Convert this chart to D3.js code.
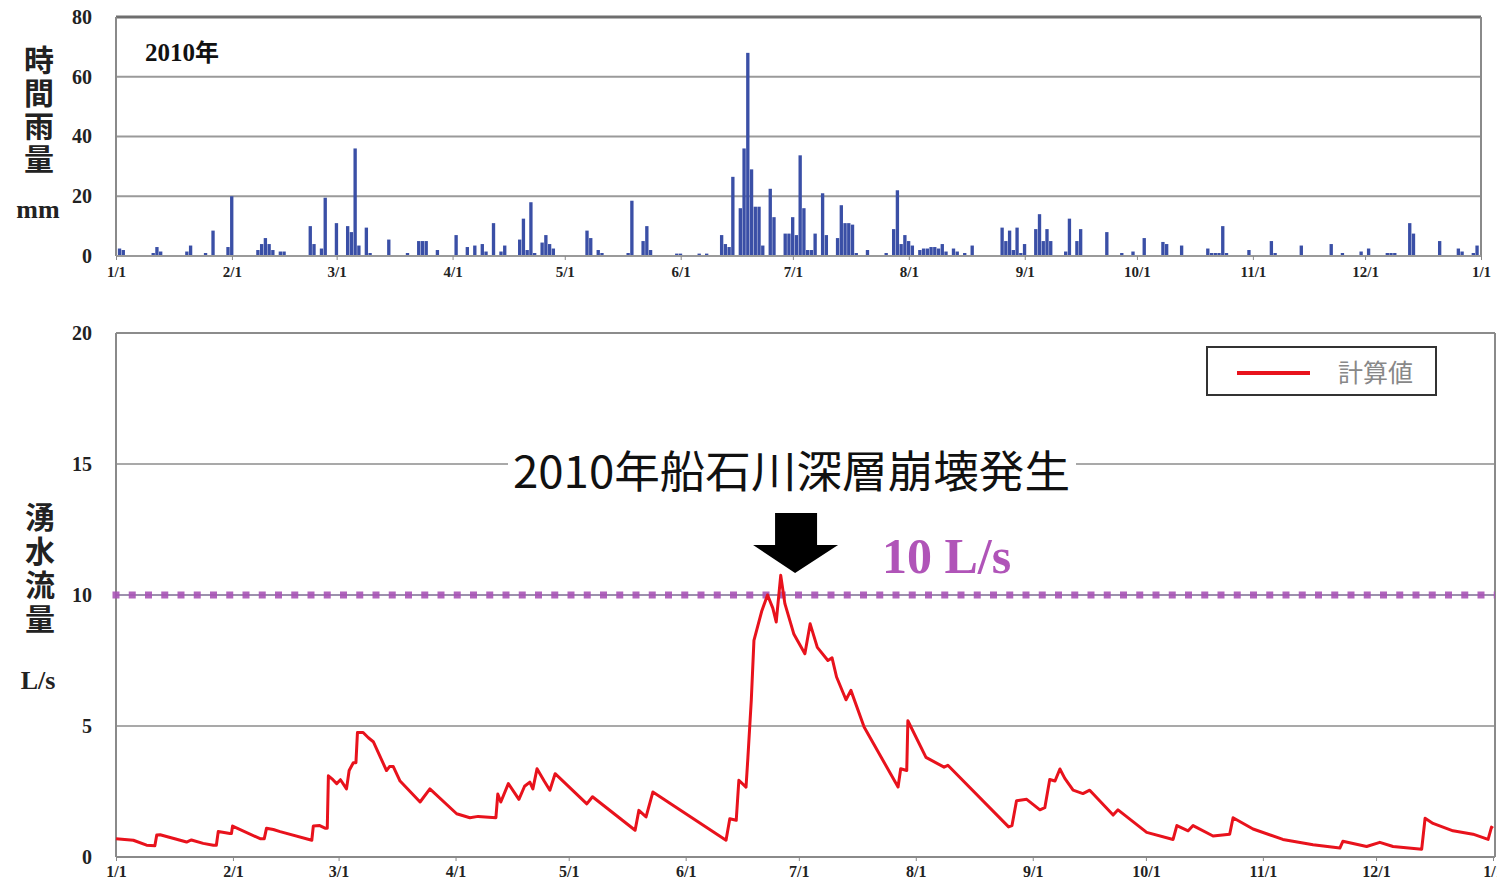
<!DOCTYPE html>
<html><head><meta charset="utf-8">
<script src="https://cdn.jsdelivr.net/npm/d3@7"></script>
<style>body{margin:0;background:#fff;} svg{display:block;}</style>
</head><body>
<svg id="c" width="1497" height="885"></svg>
<script>
// ---------- data ----------
const monthStartDays = [0,31,59,90,120,151,181,212,243,273,304,334,365];
const monthLabels = ["1/1","2/1","3/1","4/1","5/1","6/1","7/1","8/1","9/1","10/1","11/1","12/1","1/1"];

const rainTicks = [0,20,40,60,80];
const rainDays = [1,2,10,11,12,19,20,24,26,30,31,38,39,40,41,42,44,45,52,53,55,56,59,62,63,64,65,67,68,73,78,81,82,83,86,91,94,96,98,99,101,103,104,108,109,110,111,112,114,115,116,117,126,127,129,130,137,138,141,142,143,150,151,156,158,162,163,164,165,167,168,169,170,171,172,173,175,176,179,180,181,182,183,184,185,186,187,189,190,193,194,195,196,197,198,201,206,208,209,210,211,212,213,215,216,217,218,219,220,221,222,224,225,227,229,237,238,239,240,241,242,243,246,247,248,249,250,254,255,257,258,265,269,272,275,280,281,285,292,293,294,295,296,297,303,309,310,317,325,328,333,335,340,341,342,346,347,354,359,360,363,364];
const rainValues = [2.5,2,1,3,1.5,1.5,3.5,1,8.5,3,20,2,4,6,4,2,1.5,1.5,10,4,2.5,19.5,11,10,8,36,3.5,9.5,1,5.5,1,5,5,5,2,7,3,3.5,4,1.5,11,1.5,3.5,5.5,12.5,2,18,1,4.5,7,4,2.5,8.5,6,2,1,1,18.5,5,10,2,0.8,0.8,0.8,0.8,7,4,3,26.5,16,36,68,29,16.5,16.5,3.5,22.5,13,7.5,7.5,13,7,33.7,16,2,2,7.5,21,7,6,17,11,11,10.5,1,2,1,9,22,4,7,5,3.5,2,2.5,2.5,3,3,2.5,4,1.5,2.5,1.5,1,3.5,9.5,5,8.5,2,9.5,1,4,9,14,5,9,5,1.5,12.5,5,9,8,1,1.5,6,4.7,4,3.5,2.5,1,1,1,10,1,2,5,1,3.5,4,1,1.5,2.5,1,1,1,11,7.5,5,2.5,1.5,1,3.5];

const flowTicks = [0,5,10,15,20];
const flowDays = [0,4.6,8.1,10.3,10.8,11.7,18.7,20,23.1,25.8,26.6,27.1,30.2,30.6,30.9,38.2,39.3,39.9,41.7,43.5,51.9,52.3,54,55.4,56,56.3,57.5,58.5,59.5,61.1,61.8,62.9,63.6,64,65.5,66.9,68.2,71.7,72.5,73.5,75.3,80.6,83.2,90.3,93.8,96,100.7,101.2,102,104,106.8,108.3,109.7,110.5,111.6,113.5,115,116.4,124.8,126.3,137.6,138.6,140.5,142.3,161.7,162.7,164.4,165.1,167,167.5,168.4,169.1,171.2,172.7,174.1,175,176.2,177.3,179.7,182.6,184,185.9,188.7,189.8,191,193.5,194.8,198.3,207.3,208,209.6,209.9,214.7,219.5,220.5,236.6,237.5,238.7,241.4,244.9,246.2,247.5,248.9,250.2,251.5,253.7,256.3,258.1,264.3,265.6,273.2,280.2,281.2,284.2,285.5,290.8,295.2,296.1,301.4,309.3,317.3,324.4,325.2,331.5,335,338.5,346.1,347,349.1,354.4,359.7,363.7,364.6,365];
const flowValues = [0.7,0.64,0.45,0.43,0.84,0.85,0.57,0.65,0.52,0.45,0.45,0.97,0.9,0.9,1.18,0.7,0.7,1.1,1.05,0.97,0.64,1.18,1.2,1.1,1.1,3.1,2.95,2.8,2.95,2.6,3.3,3.6,3.6,4.75,4.75,4.55,4.4,3.3,3.45,3.45,2.9,2.1,2.6,1.65,1.5,1.55,1.5,2.4,2.1,2.8,2.2,2.7,2.86,2.6,3.37,2.9,2.55,3.18,2.03,2.3,1.02,1.78,1.53,2.48,0.64,1.46,1.4,2.93,2.67,3.8,6,8.27,9.4,10,9.5,8.97,10.75,9.67,8.5,7.76,8.9,8,7.5,7.6,6.87,6.0,6.36,4.96,2.67,3.37,3.3,5.2,3.8,3.43,3.5,1.15,1.2,2.15,2.2,1.8,1.88,2.96,2.9,3.36,3.0,2.55,2.42,2.55,1.6,1.8,0.94,0.67,1.2,1.0,1.2,0.8,0.87,1.5,1.07,0.67,0.47,0.34,0.6,0.4,0.56,0.4,0.3,1.48,1.28,1.0,0.87,0.67,1.14,1.1];

const thresholdValue = [10];
const eventDay = 180;
const seriesName = "計算値";

// ---------- drawing ----------
const serif = "'Liberation Serif','Times New Roman',serif";
const cjk = "'Noto Sans CJK JP','Noto Sans CJK SC',sans-serif";
const svg = d3.select("#c");

// ===== top: rainfall =====
const xR = d3.scaleLinear([0,365],[116,1481]);
const yR = d3.scaleLinear([0,80],[256,17]);

const gTop = svg.append("g");
gTop.selectAll("line.grid").data(rainTicks.filter(t=>t>0)).join("line")
  .attr("x1",xR(0)).attr("x2",xR(365)).attr("y1",d=>yR(d)).attr("y2",d=>yR(d))
  .attr("stroke",d=>d===80?"#6e6e6e":"#9a9a9a").attr("stroke-width",d=>d===80?3:2);
gTop.selectAll("rect.bar").data(rainDays.map((d,i)=>({d,v:rainValues[i]}))).join("rect")
  .attr("x",p=>xR(p.d-0.5)).attr("width",p=>xR(p.d+0.5)-xR(p.d-0.5)-0.4)
  .attr("y",p=>yR(p.v)).attr("height",p=>yR(0)-yR(p.v))
  .attr("fill","#3a4fa6");
gTop.append("line").attr("x1",xR(0)).attr("x2",xR(0)).attr("y1",yR(80)).attr("y2",yR(0)).attr("stroke","#8a8a8a").attr("stroke-width",2);
gTop.append("line").attr("x1",xR(365)).attr("x2",xR(365)).attr("y1",yR(80)).attr("y2",yR(0)).attr("stroke","#8a8a8a").attr("stroke-width",2);
gTop.append("line").attr("x1",xR(0)).attr("x2",xR(365)).attr("y1",yR(0)).attr("y2",yR(0)).attr("stroke","#9a9a9a").attr("stroke-width",2);

const axTopX = gTop.append("g").attr("transform",`translate(0,${yR(0)})`)
  .call(d3.axisBottom(xR).tickValues(monthStartDays).tickFormat((d,i)=>monthLabels[i]).tickSize(4).tickPadding(6));
axTopX.select(".domain").remove();
axTopX.selectAll("line").attr("stroke","#888");
axTopX.selectAll("text").attr("font-family",serif).attr("font-weight","bold").attr("font-size",15).attr("fill","#222");

const axTopY = gTop.append("g").attr("transform",`translate(${xR(0)},0)`)
  .call(d3.axisLeft(yR).tickValues(rainTicks).tickSize(0).tickPadding(24));
axTopY.select(".domain").remove();
axTopY.selectAll("text").attr("font-family",serif).attr("font-weight","bold").attr("font-size",20).attr("fill","#222");

gTop.append("text").attr("x",145).attr("y",61).attr("font-family",serif).attr("font-weight","bold")
  .attr("font-size",25).attr("fill","#111")
  .call(t=>{t.append("tspan").text("2010");t.append("tspan").attr("font-family",cjk).attr("font-size",24).text("年");});

// vertical y titles
gTop.append("text").attr("x",39).attr("y",45)
  .style("writing-mode","vertical-rl").attr("letter-spacing",3)
  .attr("font-family",cjk).attr("font-weight","bold").attr("font-size",30).attr("fill","#222").text("時間雨量");
gTop.append("text").attr("x",38).attr("y",218).attr("text-anchor","middle")
  .attr("font-family",serif).attr("font-weight","bold").attr("font-size",26).attr("fill","#222").text("mm");

// ===== bottom: flow =====
const xF = d3.scaleLinear([0,365],[116,1493]);
const yF = d3.scaleLinear([0,20],[857,333]);
const gBot = svg.append("g");

gBot.selectAll("line.grid").data(flowTicks.filter(t=>t>0 && t!==10)).join("line")
  .attr("x1",xF(0)).attr("x2",xF(365)+2).attr("y1",d=>yF(d)).attr("y2",d=>yF(d))
  .attr("stroke","#8c8c8c").attr("stroke-width",d=>d===20?2:1.6);
gBot.append("line").attr("x1",xF(0)).attr("x2",xF(0)).attr("y1",yF(20)).attr("y2",yF(0)).attr("stroke","#8a8a8a").attr("stroke-width",2);
gBot.append("line").attr("x1",xF(365)+2).attr("x2",xF(365)+2).attr("y1",yF(20)).attr("y2",yF(0)).attr("stroke","#8a8a8a").attr("stroke-width",2);
gBot.append("line").attr("x1",xF(0)).attr("x2",xF(365)+2).attr("y1",yF(0)).attr("y2",yF(0)).attr("stroke","#8a8a8a").attr("stroke-width",2);

// annotation text with white background (hides the 15 gridline)
gBot.append("rect").attr("x",508).attr("y",445).attr("width",568).attr("height",50).attr("fill","#fff");
gBot.append("text").attr("x",513).attr("y",488).attr("textLength",557).attr("lengthAdjust","spacingAndGlyphs")
  .attr("font-family",cjk).attr("font-size",44).attr("fill","#111").text("2010年船石川深層崩壊発生");

// threshold dotted line
gBot.selectAll("line.th").data(thresholdValue).join("line")
  .attr("x1",xF(0)).attr("x2",xF(365)+2).attr("y1",d=>yF(d)).attr("y2",d=>yF(d))
  .attr("stroke","#7d6c92").attr("stroke-width",1.5);
gBot.selectAll("line.thm").data(thresholdValue).join("line")
  .attr("x1",xF(0)-3.5).attr("x2",xF(365)+2).attr("y1",d=>yF(d)).attr("y2",d=>yF(d))
  .attr("stroke","#a955b6").attr("stroke-width",7).attr("stroke-dasharray","7,9.25").attr("opacity",0.9);

// flow line
const line = d3.line().x((d,i)=>xF(flowDays[i])).y(d=>yF(d));
gBot.append("path").attr("d",line(flowValues)).attr("fill","none")
  .attr("stroke","#e8121c").attr("stroke-width",3).attr("stroke-linejoin","round");

// arrow
const ax = xF(eventDay), tipY = 573;
gBot.append("path").attr("fill","#000")
  .attr("d",`M${ax-20},513 L${ax+22},513 L${ax+22},545 L${ax+43},545 L${ax},${tipY} L${ax-42},545 L${ax-20},545 Z`);

// 10 L/s label
gBot.append("text").attr("x",882).attr("y",573).attr("font-family",serif).attr("font-weight","bold")
  .attr("font-size",50).attr("fill","#b054b8").text("10 L/s");

// axes
const axBotX = gBot.append("g").attr("transform",`translate(0,${yF(0)})`)
  .call(d3.axisBottom(xF).tickValues(monthStartDays).tickFormat((d,i)=>monthLabels[i]).tickSize(4).tickPadding(5));
axBotX.select(".domain").remove();
axBotX.selectAll("line").attr("stroke","#888");
axBotX.selectAll("text").attr("font-family",serif).attr("font-weight","bold").attr("font-size",16).attr("fill","#222");

const axBotY = gBot.append("g").attr("transform",`translate(${xF(0)},0)`)
  .call(d3.axisLeft(yF).tickValues(flowTicks).tickSize(0).tickPadding(24));
axBotY.select(".domain").remove();
axBotY.selectAll("text").attr("font-family",serif).attr("font-weight","bold").attr("font-size",20).attr("fill","#222");

gBot.append("text").attr("x",40).attr("y",502)
  .style("writing-mode","vertical-rl").attr("letter-spacing",4)
  .attr("font-family",cjk).attr("font-weight","bold").attr("font-size",30).attr("fill","#222").text("湧水流量");
gBot.append("text").attr("x",38).attr("y",689).attr("text-anchor","middle")
  .attr("font-family",serif).attr("font-weight","bold").attr("font-size",26).attr("fill","#222").text("L/s");

// legend
const lg = gBot.append("g");
lg.append("rect").attr("x",1207).attr("y",347).attr("width",229).attr("height",48)
  .attr("fill","#fff").attr("stroke","#333").attr("stroke-width",2);
lg.append("line").attr("x1",1237).attr("x2",1310).attr("y1",373).attr("y2",373).attr("stroke","#e8121c").attr("stroke-width",4);
lg.append("text").attr("x",1338).attr("y",382).attr("font-family",cjk).attr("font-size",25).attr("fill","#888").text(seriesName);
</script>
</body></html>
